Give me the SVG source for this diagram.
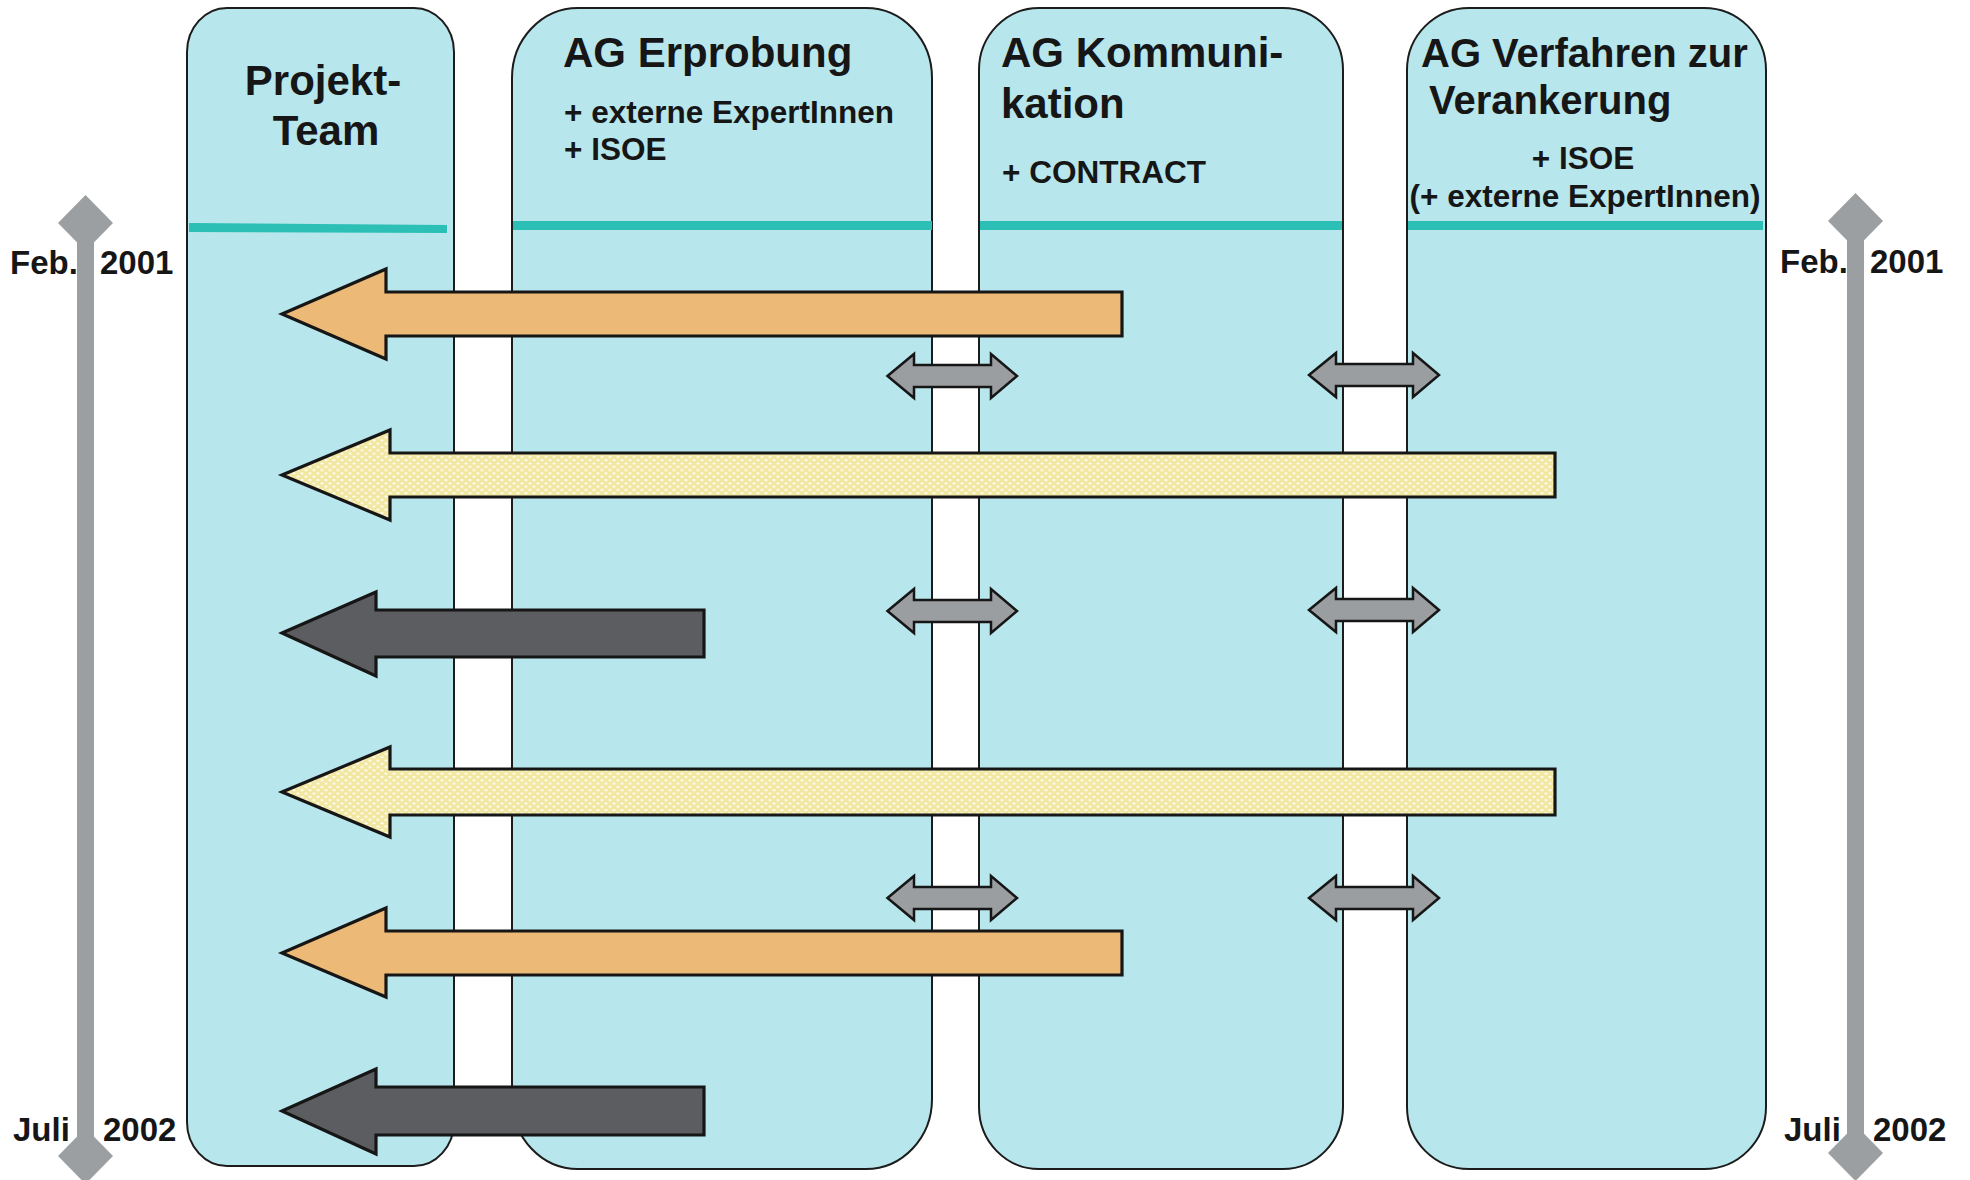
<svg xmlns="http://www.w3.org/2000/svg" width="1970" height="1180" viewBox="0 0 1970 1180">
<style>
.col{fill:#b7e6ec;stroke:#1c1c1c;stroke-width:2}
.teal{fill:#2bbfb5}
.t{font-family:"Liberation Sans",Arial,Helvetica,sans-serif;font-weight:bold;fill:#161616}
.h{font-size:42px}
.s{font-size:31.5px}
.d{font-size:33px}
.big{stroke:#161616;stroke-width:3.2;stroke-linejoin:miter}
.or{fill:#edb977}
.ye{fill:url(#dots)}
.dk{fill:#5c5d60}
.dbl{fill:#9b9ea1;stroke:#161616;stroke-width:2.5}
.tl{fill:#9c9fa2}
</style>
<defs>
<pattern id="dots" width="8" height="6.6" patternUnits="userSpaceOnUse">
<rect width="8" height="6.6" fill="#f2e7a1"/>
<ellipse cx="2" cy="1.6" rx="1.7" ry="1.05" fill="#ffffff" opacity="0.85"/>
<ellipse cx="6" cy="4.9" rx="1.7" ry="1.05" fill="#ffffff" opacity="0.85"/>
</pattern>
</defs>
<rect width="1970" height="1180" fill="#ffffff"/>

<g id="timeline-left">
<text class="t d" x="10" y="274">Feb.</text>
<text class="t d" x="100" y="274">2001</text>
<text class="t d" x="13" y="1141">Juli</text>
<text class="t d" x="103" y="1141">2002</text>
<rect class="tl" x="77" y="240" width="17" height="900"/>
<polygon class="tl" points="85.5,195 113,223 85.5,251 58,223"/>
<polygon class="tl" points="85.5,1128 113,1156 85.5,1184 58,1156"/>
</g>

<g id="timeline-right">
<text class="t d" x="1780" y="273">Feb.</text>
<text class="t d" x="1870" y="273">2001</text>
<text class="t d" x="1784" y="1141">Juli</text>
<text class="t d" x="1873" y="1141">2002</text>
<rect class="tl" x="1847" y="240" width="17" height="900"/>
<polygon class="tl" points="1855.5,193 1883,221 1855.5,249 1828,221"/>
<polygon class="tl" points="1855.5,1125 1883,1153 1855.5,1181 1828,1153"/>
</g>

<g id="projekt-team">
<rect class="col" x="187" y="8" width="267" height="1158" rx="40" ry="44"/>
<polygon class="teal" points="189,223 447,225 447,233 189,232"/>
<text class="t h" x="323" y="95" text-anchor="middle">Projekt-</text>
<text class="t h" x="326" y="145" text-anchor="middle">Team</text>
</g>

<g id="ag-erprobung">
<rect class="col" x="512" y="8" width="420" height="1161" rx="66" ry="70"/>
<rect class="teal" x="513" y="221" width="419" height="9"/>
<text class="t h" x="563" y="67">AG Erprobung</text>
<text class="t s" x="564" y="123">+ externe ExpertInnen</text>
<text class="t s" x="564" y="160">+ ISOE</text>
</g>

<g id="ag-kommunikation">
<rect class="col" x="979" y="8" width="364" height="1161" rx="60" ry="62"/>
<rect class="teal" x="980" y="221" width="362" height="9"/>
<text class="t h" x="1001" y="67">AG Kommuni-</text>
<text class="t h" x="1001" y="118">kation</text>
<text class="t s" x="1002" y="183">+ CONTRACT</text>
</g>

<g id="ag-verfahren">
<rect class="col" x="1407" y="8" width="359" height="1161" rx="62" ry="62"/>
<rect class="teal" x="1408" y="221" width="355" height="9"/>
<text class="t" font-size="40" x="1421" y="67">AG Verfahren zur</text>
<text class="t" font-size="40" x="1429" y="114">Verankerung</text>
<text class="t s" x="1583" y="169" text-anchor="middle">+ ISOE</text>
<text class="t s" x="1585" y="207" text-anchor="middle">(+ externe ExpertInnen)</text>
</g>

<g id="connectors">
<path class="big or" d="M282,314 L386,269 L386,292 L1122,292 L1122,336 L386,336 L386,359 Z"/>
<path class="big ye" d="M282,475 L390,430 L390,453 L1555,453 L1555,497 L390,497 L390,520 Z"/>
<path class="big dk" d="M282,633 L376,592 L376,610 L704,610 L704,657 L376,657 L376,676 Z"/>
<path class="big ye" d="M282,792 L390,747 L390,769 L1555,769 L1555,815 L390,815 L390,837 Z"/>
<path class="big or" d="M282,953 L386,908 L386,931 L1122,931 L1122,975 L386,975 L386,997 Z"/>
<path class="big dk" d="M282,1111 L376,1069 L376,1087 L704,1087 L704,1135 L376,1135 L376,1154 Z"/>

<path class="dbl" d="M887.5,376 L914,354 L914,365 L991,365 L991,354 L1017,376 L991,398 L991,387 L914,387 L914,398 Z"/>
<path class="dbl" d="M887.5,611 L914,589 L914,600 L991,600 L991,589 L1017,611 L991,633 L991,622 L914,622 L914,633 Z"/>
<path class="dbl" d="M887.5,898 L914,876 L914,887 L991,887 L991,876 L1017,898 L991,920 L991,909 L914,909 L914,920 Z"/>
<path class="dbl" d="M1309,375 L1336,353 L1336,364 L1413,364 L1413,353 L1439,375 L1413,397 L1413,386 L1336,386 L1336,397 Z"/>
<path class="dbl" d="M1309,610 L1336,588 L1336,599 L1413,599 L1413,588 L1439,610 L1413,632 L1413,621 L1336,621 L1336,632 Z"/>
<path class="dbl" d="M1309,898 L1336,876 L1336,887 L1413,887 L1413,876 L1439,898 L1413,920 L1413,909 L1336,909 L1336,920 Z"/>
</g>
</svg>
